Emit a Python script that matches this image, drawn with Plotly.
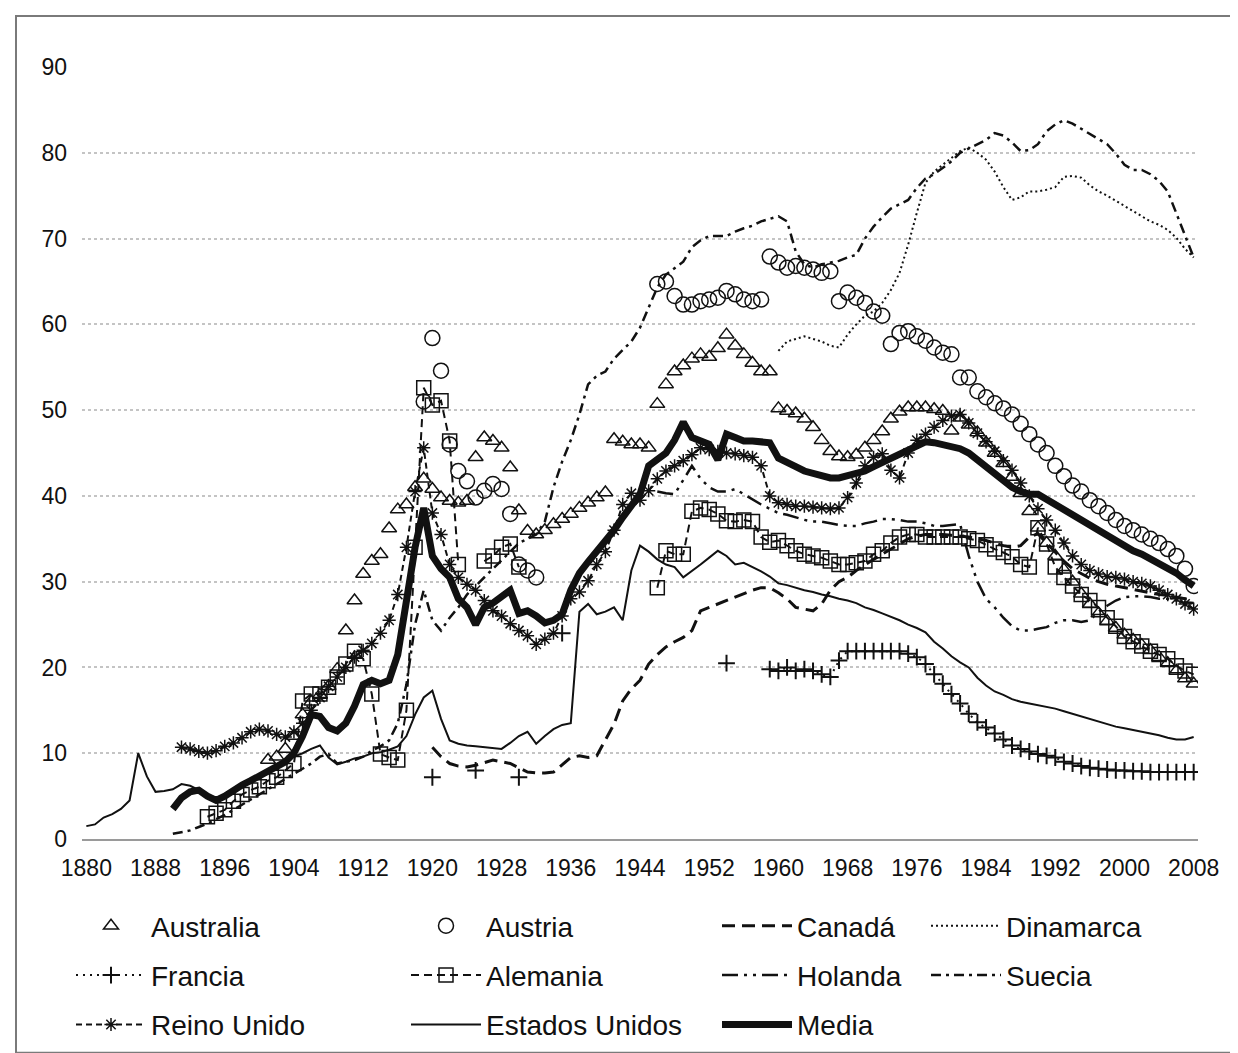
import plotly.graph_objects as go

# values, one list per country, starting at *_start
us_start = 1880
us_vals = [
    1.5, 1.7, 2.5, 2.9, 3.5, 4.5, 10.0, 7.3, 5.5, 5.6,
    5.8, 6.4, 6.2, 5.7, 5.2, 4.8, 5.2, 5.8, 6.5, 7.0,
    7.5, 8.0, 8.4, 9.0, 9.6, 10.0, 10.5, 10.9, 9.5, 8.7,
    9.0, 9.4, 9.6, 10.0, 10.1, 10.4, 10.8, 12.0, 14.5, 16.5,
    17.3, 14.0, 11.5, 11.1, 10.9, 10.8, 10.7, 10.6, 10.5, 11.2,
    12.0, 12.5, 11.1, 12.0, 12.8, 13.3, 13.5, 26.5, 27.4, 26.2,
    26.5, 27.0, 25.5, 31.3, 34.2, 33.5, 32.6, 32.0, 31.7, 30.5,
    31.2, 32.0, 32.8, 33.6, 33.0, 32.0, 32.2, 31.7, 31.2, 30.6,
    29.8, 29.6, 29.3, 29.0, 28.8, 28.5, 28.3, 28.0, 27.8, 27.5,
    27.0, 26.7, 26.3, 25.9, 25.5, 25.0, 24.6, 24.1, 23.0, 22.2,
    21.3, 20.6, 20.0, 18.8, 17.9, 17.2, 16.8, 16.3, 16.0, 15.8,
    15.6, 15.4, 15.2, 14.9, 14.6, 14.3, 14.0, 13.7, 13.4, 13.1,
    12.9, 12.7, 12.5, 12.3, 12.1, 11.8, 11.6, 11.6, 11.9,
]

media_start = 1890
media_vals = [
    3.5, 4.8, 5.5, 5.7, 5.0, 4.5, 5.0, 5.7, 6.3, 6.8,
    7.3, 7.9, 8.4, 9.0, 10.0, 12.0, 14.5, 14.3, 13.0, 12.6,
    13.5, 15.5, 18.0, 18.5, 18.1, 18.5, 21.5, 28.0, 34.0, 38.6,
    33.0, 31.5, 30.5, 28.0, 27.0, 25.0, 27.0, 27.5, 28.2, 29.0,
    26.3, 26.6, 26.0, 25.2, 25.5, 26.2, 29.0, 31.0, 32.3, 33.5,
    34.5, 36.0, 37.5, 39.0, 40.2, 43.5, 44.3, 45.0, 46.5, 48.6,
    46.8, 46.3, 46.0, 44.2, 47.2, 46.8, 46.4, 46.4, 46.4, 46.2,
    44.4, 44.0, 43.4, 42.9, 42.6, 42.3, 42.1, 42.1, 42.3, 42.5,
    42.9, 43.4, 43.9, 44.3, 44.8, 45.3, 45.8, 46.3, 46.2, 46.0,
    45.8, 45.5, 45.0, 44.2, 43.4, 42.6, 41.8, 41.0, 40.5, 40.2,
    40.2, 39.6, 38.9, 38.2, 37.6, 37.0, 36.4, 35.9, 35.3, 34.8,
    34.2, 33.6, 33.2, 32.7, 32.1, 31.6, 31.0, 30.2, 29.5,
]

uk_start = 1891
uk_vals = [
    10.7, 10.5, 10.2, 10.0, 10.3, 10.8, 11.2, 11.8, 12.5,
    12.8, 12.6, 12.2, 11.9, 12.5, 13.5, 15.0, 16.5, 17.8, 18.9,
    20.0, 21.2, 22.0, 22.8, 24.0, 25.5, 28.5, 34.0, 40.5, 45.6,
    38.0, 35.5, 32.0, 30.5, 29.7, 29.0, 27.8, 26.6, 26.0, 25.1,
    24.3, 23.7, 22.7, 23.3, 24.0, 26.0, 28.0, 28.8, 30.1, 32.0,
    33.5, 36.0, 39.0, 40.3, 39.5, 40.6, 42.0, 42.9, 43.5, 44.1,
    44.8, 45.6, 45.4, 45.2, 45.0, 44.9, 44.7, 44.5, 43.5, 40.0,
    39.2, 39.0, 38.8, 38.8, 38.7, 38.6, 38.5, 38.6, 39.8, 41.5,
    43.5, 44.5, 44.9, 43.0, 42.1, 45.0, 46.5, 47.2, 48.0, 48.8,
    49.3, 49.5, 48.5, 47.3, 46.3, 45.2, 44.1, 43.0, 41.5, 40.0,
    38.5, 37.2, 36.0, 34.5, 33.0, 32.0, 31.3, 30.9, 30.6, 30.5,
    30.3, 30.0, 29.8, 29.5, 29.0, 28.5, 28.0, 27.4, 26.8,
]

australia_start = 1901
australia_vals = [
    9.2, 9.6, 10.5, 12.0, 14.5, 16.0, 16.8, 17.8, 19.8,
    24.3, 27.8, 30.9, 32.4, 33.2, 36.2, 38.4, 39.0, 41.0, 42.0,
    40.8, 39.8, 39.4, 39.2, 39.4, 44.5, 46.8, 46.4, 45.6, 43.3,
    38.3, 35.9, 35.5, 36.0, 36.7, 37.3, 37.9, 38.6, 39.2, 39.8,
    40.4, 46.6, 46.3, 46.0, 46.0, 45.6, 50.7, 53.0, 54.5, 55.2,
    56.0, 56.5, 56.2, 57.2, 58.8, 57.5, 56.5, 55.5, 54.5, 54.5,
    50.2, 49.9, 49.6, 49.0, 48.0, 46.5, 45.2, 44.6, 44.5, 44.8,
    45.6, 46.5, 47.5, 49.0, 49.8, 50.3, 50.3, 50.3, 50.1, 49.9,
    47.6, 49.1, 48.3, 47.4, 46.2, 45.0, 43.8, 42.2, 40.3, 38.2,
    36.3, 34.5, 33.0, 31.4, 30.0, 28.6, 27.4, 26.3, 25.4, 24.6,
    23.8, 23.2, 22.6, 22.0, 21.2, 20.5, 19.6, 18.7, 18.1,
]

austria_start = 1919
austria_vals = [
    51.0, 58.4, 54.6, 46.0, 42.9, 41.7, 39.8, 40.6, 41.4, 40.8,
    37.9, 32.0, 31.3, 30.5,
    None, None, None, None, None, None, None, None, None, None,
    None, None, None,
    64.7, 65.0, 63.3, 62.3, 62.3, 62.7, 62.9, 63.1, 63.9, 63.5,
    62.9, 62.7, 62.9, 67.9, 67.2, 66.6, 66.8, 66.6, 66.4, 66.0,
    66.2, 62.7, 63.7, 63.1, 62.5, 61.5, 61.0, 57.7, 59.0, 59.2,
    58.6, 58.1, 57.3, 56.7, 56.5, 53.8, 53.8, 52.2, 51.5, 50.8,
    50.2, 49.5, 48.4, 47.2, 46.0, 45.0, 43.5, 42.3, 41.2, 40.5,
    39.5, 38.8, 38.0, 37.2, 36.5, 36.0, 35.5, 35.0, 34.5, 33.8,
    33.0, 31.5, 29.5,
]

alemania_start = 1894
alemania_vals = [
    2.6, 3.0, 3.4, 4.4, 5.2, 5.7, 6.1, 6.8, 7.2, 8.0,
    8.8, 16.1, 16.9, 16.9, 17.7, 18.9, 20.4, 21.9, 21.0, 16.9,
    9.9, 9.5, 9.2, 15.0, 34.0, 52.6, 50.6, 51.1, 46.4, 32.0,
    None, None, 32.4, 33.0, 34.0, 34.4, 31.7,
    None, None, None, None, None, None, None, None, None, None,
    None, None, None, None, None,
    29.3, 33.6, 33.2, 33.2, 38.2, 38.6, 38.4, 37.9, 37.1, 37.0,
    37.2, 37.0, 35.2, 34.6, 34.8, 34.2, 33.6, 33.2, 33.0, 32.8,
    32.4, 32.0, 32.0, 32.2, 32.4, 33.2, 33.6, 34.5, 35.2, 35.5,
    35.5, 35.2, 35.2, 35.2, 35.2, 35.2, 35.0, 34.8, 34.3, 33.8,
    33.4, 32.9, 32.0, 31.7, 36.3, 34.4, 31.7, 30.5, 29.5, 28.5,
    27.8, 27.0, 25.8, 24.8, 23.6, 23.0, 22.5, 21.9, 21.5, 21.0,
    20.2, 19.6, 19.2,
]

francia_start = 1920
francia_vals = [
    7.2, None, None, None, None, 8.0, None, None, None, None,
    7.2, None, None, None, None, 24.0, None, None, None, None,
    None, None, None, None, None, None, None, None, None, None,
    None, None, None, None, 20.5, None, None, None, None, 19.8,
    19.6, 20.0, 19.6, 19.8, 19.6, 19.2, 18.9, 20.8, 21.9, 21.9,
    21.9, 21.9, 21.9, 21.9, 21.9, 21.6, 21.2, 20.4, 19.2, 18.1,
    16.9, 15.8, 14.6, 13.6, 13.0, 12.3, 11.6, 10.9, 10.5, 10.2,
    9.9, 9.7, 9.5, 9.0, 8.8, 8.5, 8.3, 8.2, 8.1, 8.0,
    8.0, 7.9, 7.9, 7.8, 7.8, 7.8, 7.8, 7.8, 7.8,
]

canada_start = 1920
canada_vals = [
    10.7, 9.6, 8.8, 8.5, 8.4, 8.6, 8.9, 9.2, 9.0, 8.8,
    8.3, 7.8, 7.7, 7.7, 7.8, 8.6, 9.5, 9.7, 9.5, 9.7,
    11.5, 13.4, 16.1, 17.5, 18.5, 20.4, 21.5, 22.4, 23.0, 23.5,
    24.3, 26.6, 27.0, 27.4, 27.8, 28.2, 28.6, 29.0, 29.3, 29.3,
    28.7, 28.0, 27.0, 26.8, 26.6, 27.4, 29.0, 30.0, 30.5, 31.3,
    32.0, 32.6, 33.2, 33.8, 34.5, 35.0, 35.3, 35.5, 35.5, 35.5,
    35.4, 35.3, 35.2, 35.0, 34.8, 34.5, 34.2, 34.0, 34.2, 35.2,
    35.6, 34.5, 33.4, 32.4, 31.5, 30.9, 30.4, 30.0, 29.7, 29.5,
    29.3, 29.1, 28.9, 28.7, 28.5, 28.4, 28.2, 28.0, 27.9,
]

holanda_start = 1946
holanda_vals = [
    40.5, 40.3, 40.2, 41.8, 43.5, 42.0, 41.0, 40.5, 40.5, 40.8,
    40.2, 39.5, 39.0, 38.5, 38.0, 37.8, 37.5, 37.2, 37.0, 37.0,
    36.8, 36.6, 36.5, 36.5, 36.8, 37.0, 37.3, 37.3, 37.2, 37.0,
    37.0, 36.8, 36.5, 36.5, 36.6, 36.7, 33.0, 30.0, 28.0, 27.0,
    25.8, 24.8, 24.3, 24.3, 24.5, 24.7, 25.2, 25.5, 25.5, 25.3,
    25.5, 26.5, 27.2, 27.8, 28.2, 28.3, 28.3, 28.2, 28.0, 28.0,
    27.8, 27.6, 27.5,
]

suecia_start = 1890
suecia_vals = [
    0.6, 0.8, 1.0, 1.4, 1.8, 2.3, 2.8, 3.4, 4.0, 4.6,
    5.2, 5.8, 6.4, 7.0, 7.6, 8.2, 8.8, 9.6, 9.9, 8.8,
    9.0, 9.2, 9.6, 10.3, 10.8, 11.5, 13.5, 18.0, 25.0, 29.0,
    25.5, 24.3, 25.8, 27.0, 28.5, 29.5, 30.5, 31.5, 32.5, 33.5,
    34.5, 35.0, 35.5, 37.0, 41.0, 44.0, 46.5, 49.5, 53.0, 54.0,
    54.5, 56.0, 57.0, 58.0, 59.6, 62.0, 64.3, 65.8, 66.5, 67.3,
    69.0, 69.8, 70.3, 70.3, 70.3, 70.8, 71.2, 71.5, 72.0, 72.3,
    72.6, 72.0, 68.5, 67.0, 66.6, 67.0, 67.2, 67.4, 67.8, 68.1,
    70.0, 71.4, 72.5, 73.5, 74.0, 74.5, 75.9, 77.0, 77.5, 78.2,
    79.0, 80.0, 80.5, 81.0, 81.5, 82.3, 82.0, 81.2, 80.2, 80.3,
    81.0, 82.5, 83.3, 83.8, 83.4, 82.8, 82.2, 81.6, 81.0, 79.9,
    78.6, 78.0, 78.0, 77.5, 76.7, 75.5, 73.0, 70.3, 67.8,
]

dinamarca_start = 1960
dinamarca_vals = [
    56.9, 58.0, 58.3, 58.6, 58.3, 58.0, 57.5, 57.3, 58.8, 60.0,
    61.0, 61.5, 62.5, 64.0, 66.0, 69.3, 73.0, 76.5, 77.8, 78.6,
    79.5, 80.2, 80.6, 80.0, 79.2, 77.8, 76.0, 74.5, 74.8, 75.5,
    75.5, 75.7, 76.0, 77.2, 77.3, 77.1, 76.2, 75.5, 75.0, 74.4,
    73.8, 73.2, 72.6, 72.0, 71.6, 71.0, 70.1, 68.8, 67.8,
]

tick_years = list(range(1880, 2009, 8))
y_ticks = list(range(0, 91, 10))

INK = "#111111"
FONT = "Liberation Sans"


def years_for(start, vals):
    assert start + len(vals) - 1 == 2008, (start, len(vals))
    return list(range(start, start + len(vals)))


fig = go.Figure()


def add(name, start, vals, legend, mode="lines", dash="solid", width=2,
        symbol=None, size=10, mline=1.5):
    kw = dict(
        x=years_for(start, vals), y=vals, name=name, mode=mode,
        legend=legend, legendgroup=name, connectgaps=False,
        line=dict(color=INK, width=width, dash=dash),
    )
    if symbol:
        kw["marker"] = dict(symbol=symbol, size=size, color=INK,
                            line=dict(color=INK, width=mline))
    fig.add_trace(go.Scatter(**kw))


# same drawing order as the source: Media ends up on top
add("Australia", australia_start, australia_vals, "legend",
    mode="markers", symbol="triangle-up-open", size=13)
add("Austria", austria_start, austria_vals, "legend2",
    mode="markers", symbol="circle-open", size=15)
add("Canadá", canada_start, canada_vals, "legend3",
    dash="13px,7px", width=3)
add("Dinamarca", dinamarca_start, dinamarca_vals, "legend4",
    dash="2px,3px", width=2)
add("Francia", francia_start, francia_vals, "legend",
    mode="lines+markers", dash="2px,5px", width=2,
    symbol="cross-thin-open", size=12, mline=2)
add("Alemania", alemania_start, alemania_vals, "legend2",
    mode="lines+markers", dash="8px,5px", width=2,
    symbol="square-open", size=14)
add("Holanda", holanda_start, holanda_vals, "legend3",
    dash="16px,6px,3px,6px,3px,6px", width=2.5)
add("Suecia", suecia_start, suecia_vals, "legend4",
    dash="10px,5px,3px,5px", width=2.5)
add("Reino Unido", uk_start, uk_vals, "legend",
    mode="lines+markers", dash="6px,4px", width=2,
    symbol="asterisk-open", size=11)
add("Estados Unidos", us_start, us_vals, "legend2", width=2)
add("Media", media_start, media_vals, "legend3", width=7)

# plot area in pixels: x 74..1190, y 59..832
PL, PR, PT, PB = 74, 1190, 59, 832
W, H = 1238, 1053


def px_x(px):
    return (px - PL) / (PR - PL)


def px_y(py):
    return (PB - py) / (PB - PT)


legend_style = dict(
    orientation="v", xanchor="left", yanchor="top",
    font=dict(family=FONT, size=28, color=INK),
    itemwidth=70, tracegroupgap=10, bgcolor="rgba(0,0,0,0)",
    itemclick=False, itemdoubleclick=False,
)
legend_left = [63, 398, 709, 918]

fig.update_layout(
    width=W, height=H,
    margin=dict(l=PL, r=W - PR, t=PT, b=H - PB),
    paper_bgcolor="white", plot_bgcolor="white",
    font=dict(family=FONT, color=INK),
    xaxis=dict(
        range=[1879.5, 2008.5], tickvals=tick_years,
        showgrid=False, zeroline=False, showline=True,
        linecolor="#9a9a9a", linewidth=1.5, ticks="",
        tickfont=dict(size=23, color=INK), ticklabelstandoff=8,
    ),
    yaxis=dict(
        range=[0, 90], tickvals=y_ticks,
        showgrid=True, gridcolor="#c4c4c4", griddash="dot", gridwidth=1.5,
        zeroline=False, showline=False, ticks="",
        tickfont=dict(size=23, color=INK), ticklabelstandoff=14,
    ),
    legend=dict(x=px_x(legend_left[0]), y=px_y(893), **legend_style),
    legend2=dict(x=px_x(legend_left[1]), y=px_y(893), **legend_style),
    legend3=dict(x=px_x(legend_left[2]), y=px_y(893), **legend_style),
    legend4=dict(x=px_x(legend_left[3]), y=px_y(893), **legend_style),
    shapes=[dict(
        type="rect", xref="paper", yref="paper",
        x0=px_x(8), x1=px_x(1231), y0=px_y(1046), y1=px_y(8),
        line=dict(color="#7a7a7a", width=2), fillcolor="rgba(0,0,0,0)",
        layer="below",
    )],
)

fig.write_html("out.html")
